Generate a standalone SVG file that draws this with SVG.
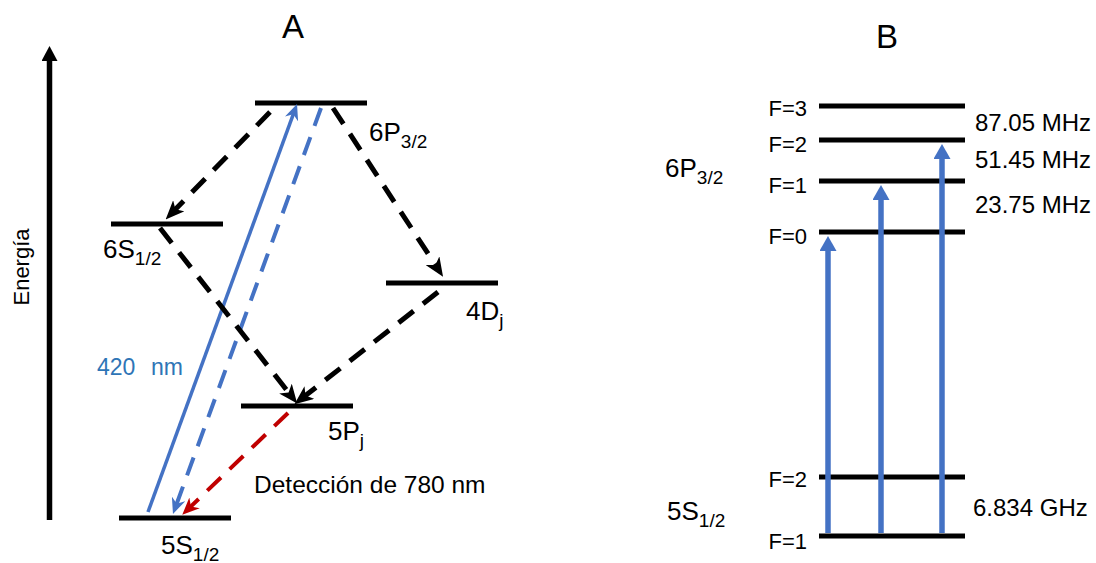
<svg xmlns="http://www.w3.org/2000/svg" width="1096" height="563" viewBox="0 0 1096 563">
<style>
text { font-family: "Liberation Sans", Arial, sans-serif; fill: #000; }
.lvl { stroke: #000; stroke-width: 5; fill: none; }
.kd { stroke: #000; stroke-width: 5; stroke-dasharray: 19 12; fill: none; }
.bd { stroke: #4472C4; stroke-width: 4; stroke-dasharray: 19 12; fill: none; }
.rd { stroke: #C00000; stroke-width: 4; stroke-dasharray: 19 12; fill: none; }
.bs { stroke: #4472C4; stroke-width: 3.5; fill: none; }
.bv { stroke: #4472C4; stroke-width: 5.5; fill: none; }
.lab { font-size: 26px; }
.sub { font-size: 19px; }
.fl { font-size: 22px; text-anchor: end; }
.fr { font-size: 24px; }
.ttl { font-size: 33px; }
.blu { fill: #2E75B6; font-size: 23px; }
</style>
<defs>
<marker id="hk" markerUnits="userSpaceOnUse" markerWidth="19" markerHeight="16" refX="7" refY="8" orient="auto" viewBox="0 0 19 16"><path d="M0,0 L19,8 L0,16 L5,8 z" fill="#000"/></marker>
<marker id="hb" markerUnits="userSpaceOnUse" markerWidth="16" markerHeight="14" refX="6" refY="7" orient="auto" viewBox="0 0 16 14"><path d="M0,0 L16,7 L0,14 L5,7 z" fill="#4472C4"/></marker>
<marker id="hr" markerUnits="userSpaceOnUse" markerWidth="17" markerHeight="15" refX="6" refY="7.5" orient="auto" viewBox="0 0 17 15"><path d="M0,0 L17,7.5 L0,15 L5,7.5 z" fill="#C00000"/></marker>
<marker id="ha" markerUnits="userSpaceOnUse" markerWidth="15" markerHeight="16" refX="1" refY="8" orient="auto" viewBox="0 0 15 16"><path d="M0,0 L15,8 L0,16 z" fill="#000"/></marker>
<marker id="hv" markerUnits="userSpaceOnUse" markerWidth="15" markerHeight="17" refX="1" refY="8.5" orient="auto" viewBox="0 0 15 17"><path d="M0,0 L15,8.5 L0,17 z" fill="#4472C4"/></marker>
</defs>

<!-- Panel A -->
<text class="ttl" x="282" y="38">A</text>
<g id="axis">
<line x1="49.5" y1="520" x2="49.5" y2="60" stroke="#000" stroke-width="5.5" marker-end="url(#ha)"/>
<text x="28.5" y="267" font-size="22" text-anchor="middle" transform="rotate(-90 28.5 267)">Energía</text>
</g>
<g id="lvl-6P32">
<line class="lvl" x1="255" y1="103" x2="367" y2="103"/>
<text class="lab" x="369" y="141">6P<tspan class="sub" dy="7">3/2</tspan></text>
</g>
<g id="lvl-6S12">
<line class="lvl" x1="111" y1="224" x2="223" y2="224"/>
<text class="lab" x="103" y="258">6S<tspan class="sub" dy="7">1/2</tspan></text>
</g>
<g id="lvl-4Dj">
<line class="lvl" x1="386" y1="283" x2="498" y2="283"/>
<text class="lab" x="466" y="320">4D<tspan class="sub" dy="7">j</tspan></text>
</g>
<g id="lvl-5Pj">
<line class="lvl" x1="241" y1="406" x2="353" y2="406"/>
<text class="lab" x="328" y="440">5P<tspan class="sub" dy="7">j</tspan></text>
</g>
<g id="lvl-5S12">
<line class="lvl" x1="119" y1="518" x2="231" y2="518"/>
<text class="lab" x="161" y="554">5S<tspan class="sub" dy="7">1/2</tspan></text>
</g>
<text class="blu" x="97" y="375">420<tspan x="151">nm</tspan></text>
<text x="254" y="493" font-size="24.5">Detección de 780 nm</text>

<g id="connectors-A">
<line class="bs" x1="148" y1="512" x2="293.6" y2="113.4" marker-end="url(#hb)"/>
<line class="bd" x1="321" y1="108" x2="176.4" y2="504.6" marker-end="url(#hb)"/>
<line class="kd" x1="270" y1="112" x2="174" y2="210.8" marker-end="url(#hk)"/>
<line class="kd" x1="333" y1="108" x2="436.5" y2="266.6" marker-end="url(#hk)"/>
<line class="kd" x1="160" y1="228" x2="289.8" y2="394.1" marker-end="url(#hk)"/>
<line class="kd" x1="438" y1="292" x2="303.9" y2="396.8" marker-end="url(#hk)"/>
<line class="rd" x1="288" y1="413" x2="190.2" y2="507.1" marker-end="url(#hr)"/>
</g>

<!-- Panel B -->
<text class="ttl" x="876" y="48">B</text>
<g id="B-6P32">
<text class="lab" x="665" y="177">6P<tspan class="sub" dy="7">3/2</tspan></text>
<g id="B-F3"><line class="lvl" x1="819" y1="106" x2="965" y2="106"/><text class="fl" x="807" y="116">F=3</text></g>
<g id="B-F2u"><line class="lvl" x1="819" y1="140" x2="965" y2="140"/><text class="fl" x="807" y="152">F=2</text></g>
<g id="B-F1u"><line class="lvl" x1="819" y1="181" x2="965" y2="181"/><text class="fl" x="807" y="193">F=1</text></g>
<g id="B-F0"><line class="lvl" x1="819" y1="232" x2="965" y2="232"/><text class="fl" x="807" y="244">F=0</text></g>
<text class="fr" x="975" y="131">87.05 MHz</text>
<text class="fr" x="975" y="168">51.45 MHz</text>
<text class="fr" x="975" y="213">23.75 MHz</text>
</g>
<g id="B-5S12">
<text class="lab" x="667" y="520">5S<tspan class="sub" dy="7">1/2</tspan></text>
<g id="B-F2l"><line class="lvl" x1="819" y1="477" x2="965" y2="477"/><text class="fl" x="807" y="487">F=2</text></g>
<g id="B-F1l"><line class="lvl" x1="819" y1="536" x2="965" y2="536"/><text class="fl" x="807" y="549">F=1</text></g>
<text class="fr" x="973" y="516" font-size="23">6.834 GHz</text>
</g>
<g id="connectors-B">
<line class="bv" x1="828" y1="533" x2="828" y2="250" marker-end="url(#hv)"/>
<line class="bv" x1="881" y1="533" x2="881" y2="199" marker-end="url(#hv)"/>
<line class="bv" x1="942" y1="533" x2="942" y2="158" marker-end="url(#hv)"/>
</g>
</svg>
